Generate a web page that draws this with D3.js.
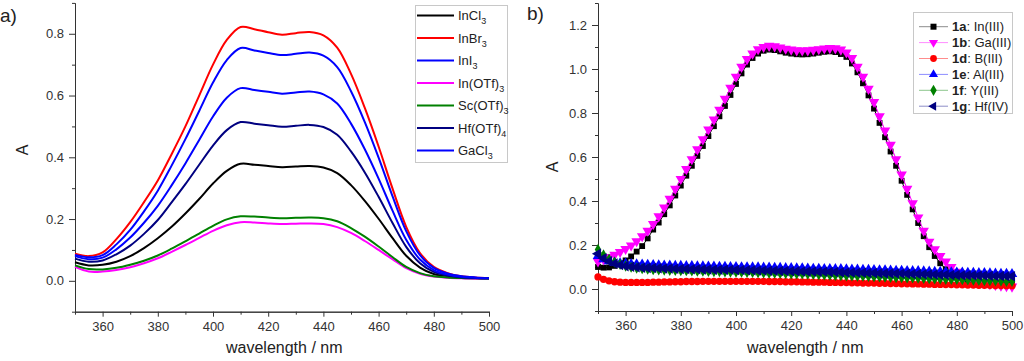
<!DOCTYPE html>
<html>
<head>
<meta charset="utf-8">
<script src="https://cdn.jsdelivr.net/npm/d3@7"></script>
<style>
body { margin: 0; background: #fff; }
svg { font-family: Arial, "Liberation Sans", sans-serif; }
</style>
</head>
<body>
<div id="chart"></div>
<script>
// ---- panel a) data, every 5 nm ----
var wlA = d3.range(350, 501, 5);
var namesA = ["InCl3", "InBr3", "InI3", "In(OTf)3", "Sc(OTf)3", "Hf(OTf)4", "GaCl3"];
var colorsA = ["#000000", "#ff0000", "#0000ff", "#ff00ff", "#008000", "#000080", "#0000ff"];
var inCl3  = [.060,.050,.052,.062,.080,.106,.138,.175,.218,.265,.315,.356,.379,.376,.372,.368,.370,.372,.367,.349,.310,.259,.201,.139,.081,.043,.022,.013,.009,.008,.007];
var inBr3  = [.088,.080,.092,.135,.190,.255,.325,.410,.500,.600,.700,.780,.822,.815,.805,.797,.802,.806,.795,.755,.670,.560,.435,.300,.175,.090,.045,.025,.015,.011,.009];
var inI3   = [.084,.076,.083,.118,.165,.225,.292,.373,.459,.550,.642,.715,.754,.746,.738,.731,.735,.739,.729,.692,.614,.514,.399,.275,.161,.083,.042,.024,.015,.011,.009];
var inOTf3 = [.045,.030,.030,.035,.044,.057,.073,.094,.116,.139,.162,.180,.190,.189,.186,.184,.185,.186,.184,.174,.155,.129,.100,.070,.041,.023,.014,.010,.008,.007,.006];
var scOTf3 = [.050,.038,.037,.042,.052,.065,.082,.104,.128,.153,.178,.199,.209,.208,.205,.203,.204,.205,.203,.193,.171,.143,.111,.077,.045,.025,.015,.011,.009,.008,.007];
var hfOTf4 = [.072,.062,.066,.086,.114,.152,.197,.254,.313,.376,.438,.488,.514,.509,.504,.499,.502,.505,.498,.473,.419,.351,.272,.188,.110,.057,.029,.017,.011,.009,.008];
var gaCl3  = [.080,.070,.075,.102,.140,.188,.243,.309,.380,.456,.532,.593,.624,.618,.612,.606,.610,.613,.604,.574,.509,.426,.331,.228,.133,.069,.035,.020,.013,.010,.008];
var seriesA = [inCl3, inBr3, inI3, inOTf3, scOTf3, hfOTf4, gaCl3];

// ---- panel b) data, every 2 nm ----
var wlB = d3.range(350, 501, 2);
var boldB = ["1a", "1b", "1d", "1e", "1f", "1g"];
var namesB = [": In(III)", ": Ga(III)", ": B(III)", ": Al(III)", ": Y(III)", ": Hf(IV)"];
var colorsB = ["#000000", "#ff00ff", "#ff0000", "#0000ff", "#008000", "#000080"];
var s1a = [.100,.097,.098,.105,.115,.130,.148,.170,.195,.230,
           .270,.302,.340,.380,.425,.470,.515,.560,.605,.650,
           .695,.740,.785,.832,.882,.932,.980,1.020,1.050,1.070,
           1.083,1.088,1.086,1.080,1.074,1.070,1.067,1.066,1.067,1.070,
           1.074,1.078,1.080,1.077,1.068,1.055,1.025,.985,.935,.880,
           .820,.755,.690,.625,.560,.492,.428,.362,.300,.240,
           .190,.150,.117,.090,.070,.056,.047,.041,.037,.034,
           .032,.030,.029,.028,.027,.026];
var s1b = [.125,.135,.145,.155,.168,.182,.198,.217,.240,.265,
           .295,.330,.370,.410,.455,.500,.545,.590,.635,.680,
           .725,.770,.815,.865,.915,.965,1.010,1.045,1.070,1.090,
           1.100,1.105,1.103,1.098,1.092,1.088,1.085,1.084,1.085,1.087,
           1.090,1.093,1.095,1.094,1.088,1.075,1.050,1.010,.965,.910,
           .850,.785,.720,.655,.590,.520,.455,.390,.325,.265,
           .215,.180,.150,.125,.100,.078,.060,.048,.038,.031,
           .026,.022,.018,.015,.013,.011];
var s1d = [.055,.044,.037,.033,.031,.030,.030,.030,.030,.030,
           .031,.031,.032,.032,.033,.033,.034,.034,.034,.035,
           .035,.035,.035,.035,.035,.035,.035,.035,.035,.035,
           .035,.034,.034,.034,.033,.033,.033,.032,.032,.031,
           .031,.031,.030,.030,.029,.029,.028,.028,.027,.027,
           .027,.026,.026,.025,.025,.024,.024,.023,.023,.022,
           .022,.021,.021,.020,.020,.019,.019,.018,.018,.017,
           .017,.017,.016,.016,.015,.015];
var s1e = [.150,.135,.126,.120,.117,.115,.113,.112,.111,.110,
           .109,.108,.107,.106,.105,.105,.104,.104,.103,.103,
           .102,.102,.101,.101,.100,.100,.099,.099,.098,.098,
           .097,.097,.096,.096,.095,.095,.094,.094,.093,.092,
           .092,.091,.091,.090,.090,.089,.088,.088,.087,.087,
           .086,.085,.085,.084,.083,.083,.082,.081,.081,.080,
           .079,.078,.078,.077,.076,.075,.075,.074,.073,.072,
           .072,.071,.070,.069,.069,.068];
var s1f = [.180,.155,.136,.122,.112,.104,.099,.095,.092,.090,
           .088,.087,.086,.085,.084,.083,.083,.082,.081,.081,
           .080,.079,.079,.078,.077,.077,.076,.075,.075,.074,
           .073,.072,.072,.071,.070,.069,.068,.068,.067,.066,
           .065,.064,.063,.062,.061,.060,.059,.058,.058,.057,
           .056,.055,.054,.053,.052,.051,.050,.050,.049,.048,
           .047,.046,.045,.044,.043,.043,.042,.041,.040,.039,
           .038,.038,.037,.036,.035,.035];
var s1g = [.160,.140,.126,.116,.109,.104,.101,.099,.097,.096,
           .095,.094,.093,.093,.092,.091,.091,.090,.090,.089,
           .089,.088,.088,.087,.087,.086,.086,.085,.085,.084,
           .084,.083,.083,.082,.082,.081,.081,.080,.079,.079,
           .078,.078,.077,.077,.076,.075,.075,.074,.074,.073,
           .073,.072,.071,.071,.070,.070,.069,.068,.068,.067,
           .067,.066,.065,.065,.064,.064,.063,.062,.062,.061,
           .061,.060,.059,.059,.058,.058];
var seriesB = [s1a, s1b, s1d, s1e, s1f, s1g];

// ticks
var xMajor = [360, 380, 400, 420, 440, 460, 480, 500];
var xMinor = [350, 370, 390, 410, 430, 450, 470, 490];
var yMajorA = [0, 0.2, 0.4, 0.6, 0.8];
var yMinorA = [-0.1, 0.1, 0.3, 0.5, 0.7, 0.9];
var yMajorB = [0, 0.2, 0.4, 0.6, 0.8, 1.0, 1.2];
var yMinorB = [-0.1, 0.1, 0.3, 0.5, 0.7, 0.9, 1.1, 1.3];

var width = 1024;
var height = 361;
var axisColor = "#333";

var svg = d3.select("#chart")
    .append("svg")
    .attr("width", width)
    .attr("height", height);

function drawAxes(x, y, yMajor, yMinor) {
    var y0 = y.range()[0];
    var x0 = x.range()[0];
    var g = svg.append("g");
    g.append("g")
        .attr("transform", "translate(0," + y0 + ")")
        .call(d3.axisBottom(x).tickValues(xMinor).tickSize(3).tickSizeOuter(0).tickFormat(""));
    g.append("g")
        .attr("transform", "translate(0," + y0 + ")")
        .call(d3.axisBottom(x).tickValues(xMajor).tickSize(5).tickPadding(5).tickSizeOuter(0).tickFormat(d3.format("d")));
    g.append("g")
        .attr("transform", "translate(" + x0 + ",0)")
        .call(d3.axisLeft(y).tickValues(yMinor).tickSize(3).tickSizeOuter(0).tickFormat(""));
    g.append("g")
        .attr("transform", "translate(" + x0 + ",0)")
        .call(d3.axisLeft(y).tickValues(yMajor).tickSize(6).tickPadding(5).tickSizeOuter(0).tickFormat(d3.format(".1f")));
    g.selectAll("path, line").attr("stroke", axisColor);
    g.selectAll("text")
        .attr("fill", axisColor)
        .attr("font-size", "13px")
        .attr("font-family", "Arial, 'Liberation Sans', sans-serif");
}

function label(txt, x, y, size, rotate) {
    svg.append("text")
        .text(txt)
        .attr("x", x)
        .attr("y", y)
        .attr("font-size", size)
        .attr("fill", "#222")
        .attr("text-anchor", rotate ? "middle" : "start")
        .attr("transform", rotate ? "rotate(-90," + x + "," + y + ")" : null);
}

/* ----------------- panel a) ----------------- */
var xA = d3.scaleLinear().domain([350, 500]).range([75, 489]);
var yA = d3.scaleLinear().domain([-0.1, 0.9]).range([311.7, 2.9]);

drawAxes(xA, yA, yMajorA, yMinorA);

var lineA = d3.line()
    .x(function(d) { return xA(d[0]); })
    .y(function(d) { return yA(d[1]); })
    .curve(d3.curveCatmullRom);

seriesA.forEach(function(s, i) {
    svg.append("path")
        .datum(wlA.map(function(w, j) { return [w, s[j]]; }))
        .attr("d", lineA)
        .attr("fill", "none")
        .attr("stroke", colorsA[i])
        .attr("stroke-width", 2);
});

// legend a)
var legA = svg.append("g");
legA.append("rect")
    .attr("x", 415.5).attr("y", 5.5)
    .attr("width", 92).attr("height", 157)
    .attr("fill", "#fff")
    .attr("stroke", "#c8c8c8");
namesA.forEach(function(n, i) {
    var yy = 15.5 + i * 22.5;
    var m = n.match(/^(.*?)(\d)$/);
    legA.append("line")
        .attr("x1", 417).attr("x2", 454)
        .attr("y1", yy).attr("y2", yy)
        .attr("stroke", colorsA[i])
        .attr("stroke-width", 2);
    var t = legA.append("text")
        .attr("x", 458)
        .attr("y", yy + 4.5)
        .attr("font-size", "13px")
        .attr("fill", "#222");
    t.append("tspan").text(m[1]);
    t.append("tspan").text(m[2]).attr("font-size", "9px").attr("dy", 4);
});

label("a)", 0, 22, "19px");
label("A", 28, 150, "16px", true);
label("wavelength / nm", 226, 353, "16px");

/* ----------------- panel b) ----------------- */
var xB = d3.scaleLinear().domain([350, 500]).range([598, 1012]);
var yB = d3.scaleLinear().domain([-0.1, 1.3]).range([311, 3]);

drawAxes(xB, yB, yMajorB, yMinorB);

var lineB = d3.line()
    .x(function(d) { return xB(d[0]); })
    .y(function(d) { return yB(d[1]); });

var symbolsB = [
    { type: d3.symbolSquare, size: 34, rot: 0 },
    { type: d3.symbolTriangle, size: 48, rot: 180 },
    { type: d3.symbolCircle, size: 42, rot: 0 },
    { type: d3.symbolTriangle, size: 48, rot: 0 },
    { type: d3.symbolDiamond, size: 36, rot: 0 },
    { type: d3.symbolTriangle, size: 48, rot: -90 }
];

seriesB.forEach(function(s, i) {
    var pts = wlB.map(function(w, j) { return [w, s[j]]; });
    svg.append("path")
        .datum(pts)
        .attr("d", lineB)
        .attr("fill", "none")
        .attr("stroke", colorsB[i])
        .attr("stroke-width", 1);
    svg.append("g")
        .selectAll("path")
        .data(pts)
        .enter()
        .append("path")
        .attr("d", d3.symbol().type(symbolsB[i].type).size(symbolsB[i].size))
        .attr("transform", function(d) {
            return "translate(" + xB(d[0]) + "," + yB(d[1]) + ") rotate(" + symbolsB[i].rot + ")";
        })
        .attr("fill", colorsB[i]);
});

// legend b)
var legB = svg.append("g");
legB.append("rect")
    .attr("x", 913.5).attr("y", 12.5)
    .attr("width", 99).attr("height", 101)
    .attr("fill", "#fff")
    .attr("stroke", "#c8c8c8");
boldB.forEach(function(b, i) {
    var yy = 26.7 + i * 15.9;
    legB.append("line")
        .attr("x1", 919).attr("x2", 948)
        .attr("y1", yy).attr("y2", yy)
        .attr("stroke", colorsB[i])
        .attr("stroke-opacity", 0.45)
        .attr("stroke-width", 1);
    legB.append("path")
        .attr("d", d3.symbol().type(symbolsB[i].type).size(36))
        .attr("transform", "translate(933.5," + yy + ") rotate(" + symbolsB[i].rot + ")")
        .attr("fill", colorsB[i]);
    var t = legB.append("text")
        .attr("x", 952)
        .attr("y", yy + 4.5)
        .attr("font-size", "13px")
        .attr("fill", "#222");
    t.append("tspan").text(b).attr("font-weight", "bold");
    t.append("tspan").text(namesB[i]);
});

label("b)", 527, 20, "19px");
label("A", 558, 167, "16px", true);
label("wavelength / nm", 747, 353, "16px");
</script>
</body>
</html>
